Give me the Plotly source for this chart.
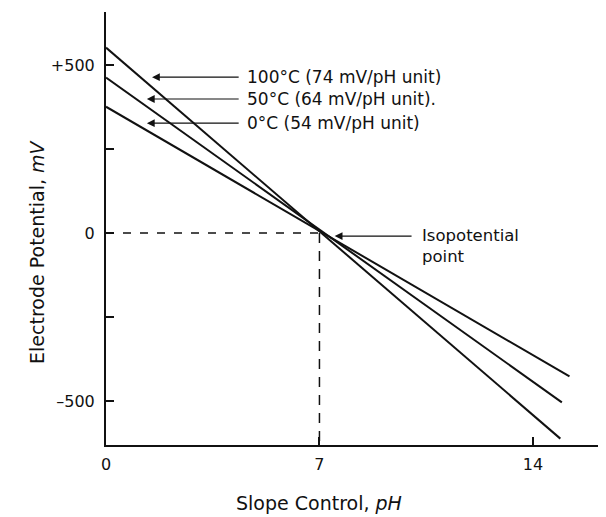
import plotly.graph_objects as go

# Data
series_names = ["100°C (74 mV/pH unit)", "50°C (64 mV/pH unit).", "0°C (54 mV/pH unit)"]
ph_100 = [0, 14.9]
mv_100 = [552, -612]
ph_50 = [0, 14.95]
mv_50 = [463, -504]
ph_0 = [0, 15.2]
mv_0 = [376, -427]

iso_ph = 7
iso_mv = 0

x_ticks = [0, 7, 14]
x_tick_text = ["0", "7", "14"]
y_ticks = [-500, -250, 0, 250, 500]
y_tick_text = ["\u2013500", "", "0", "", "+500"]

# label/arrow anchor positions (pH, mV)
label_mv = [464, 399, 327]
arrow_tip_ph = [1.51, 1.34, 1.34]

FONT = "DejaVu Sans, sans-serif"
ink = "#111111"

fig = go.Figure()
for xs, ys in [(ph_100, mv_100), (ph_50, mv_50), (ph_0, mv_0)]:
    fig.add_trace(go.Scatter(x=xs, y=ys, mode="lines",
                             line=dict(color=ink, width=2), showlegend=False,
                             hoverinfo="skip"))

# dashed guides to isopotential point
fig.add_trace(go.Scatter(x=[0, iso_ph], y=[iso_mv, iso_mv], mode="lines",
                         line=dict(color=ink, width=1.5, dash="8px,9px"),
                         showlegend=False, hoverinfo="skip"))
fig.add_trace(go.Scatter(x=[iso_ph, iso_ph], y=[iso_mv, -640], mode="lines",
                         line=dict(color=ink, width=1.5, dash="10px,8px"),
                         showlegend=False, hoverinfo="skip"))

annotations = []
for name, mv, tip in zip(series_names, label_mv, arrow_tip_ph):
    annotations.append(dict(x=tip, y=mv, ax=4.4, ay=mv, xref="x", yref="y",
                            axref="x", ayref="y", text="", showarrow=True,
                            arrowhead=2, arrowsize=1.3, arrowwidth=1.2,
                            arrowcolor=ink))
    annotations.append(dict(x=4.56, y=mv, xref="x", yref="y", text=name,
                            showarrow=False, xanchor="left", yanchor="middle",
                            font=dict(family=FONT, size=17, color=ink)))

annotations.append(dict(x=7.5, y=-9, ax=10.07, ay=-9, xref="x", yref="y",
                        axref="x", ayref="y", text="", showarrow=True,
                        arrowhead=2, arrowsize=1.3, arrowwidth=1.2,
                        arrowcolor=ink))
annotations.append(dict(x=10.3, y=-39, xref="x", yref="y",
                        text="Isopotential<br>point", showarrow=False,
                        xanchor="left", yanchor="middle", align="left",
                        font=dict(family=FONT, size=16.5, color=ink)))

annotations.append(dict(x=-0.136, y=0.448, xref="paper", yref="paper",
                        text="Electrode Potential, <i>mV</i>", textangle=-90,
                        showarrow=False, xanchor="center", yanchor="middle",
                        font=dict(family=FONT, size=19, color=ink)))
annotations.append(dict(x=0.419, y=-0.134, xref="paper", yref="paper",
                        text="Slope Control, <i>pH</i>",
                        showarrow=False, xanchor="center", yanchor="middle",
                        font=dict(family=FONT, size=19, color=ink)))

fig.update_layout(
    width=606, height=517,
    margin=dict(l=98, r=0, t=4, b=80),
    paper_bgcolor="white", plot_bgcolor="white",
    font=dict(family=FONT, size=16, color=ink),
    annotations=annotations,
    xaxis=dict(range=[0, 16.66], tickvals=x_ticks, ticktext=x_tick_text,
               ticks="inside", ticklen=8, tickwidth=1.5, tickcolor=ink,
               showline=True, linecolor=ink, linewidth=2, showgrid=False,
               zeroline=False, fixedrange=True, tickfont=dict(size=16),
               ticklabelstandoff=4),
    yaxis=dict(range=[-631, 658], tickvals=y_ticks, ticktext=y_tick_text,
               ticks="inside", ticklen=8, tickwidth=1.5, tickcolor=ink,
               showline=True, linecolor=ink, linewidth=2, showgrid=False,
               zeroline=False, fixedrange=True, tickfont=dict(size=16),
               ticklabelstandoff=6),
)

fig.write_html("out.html")
